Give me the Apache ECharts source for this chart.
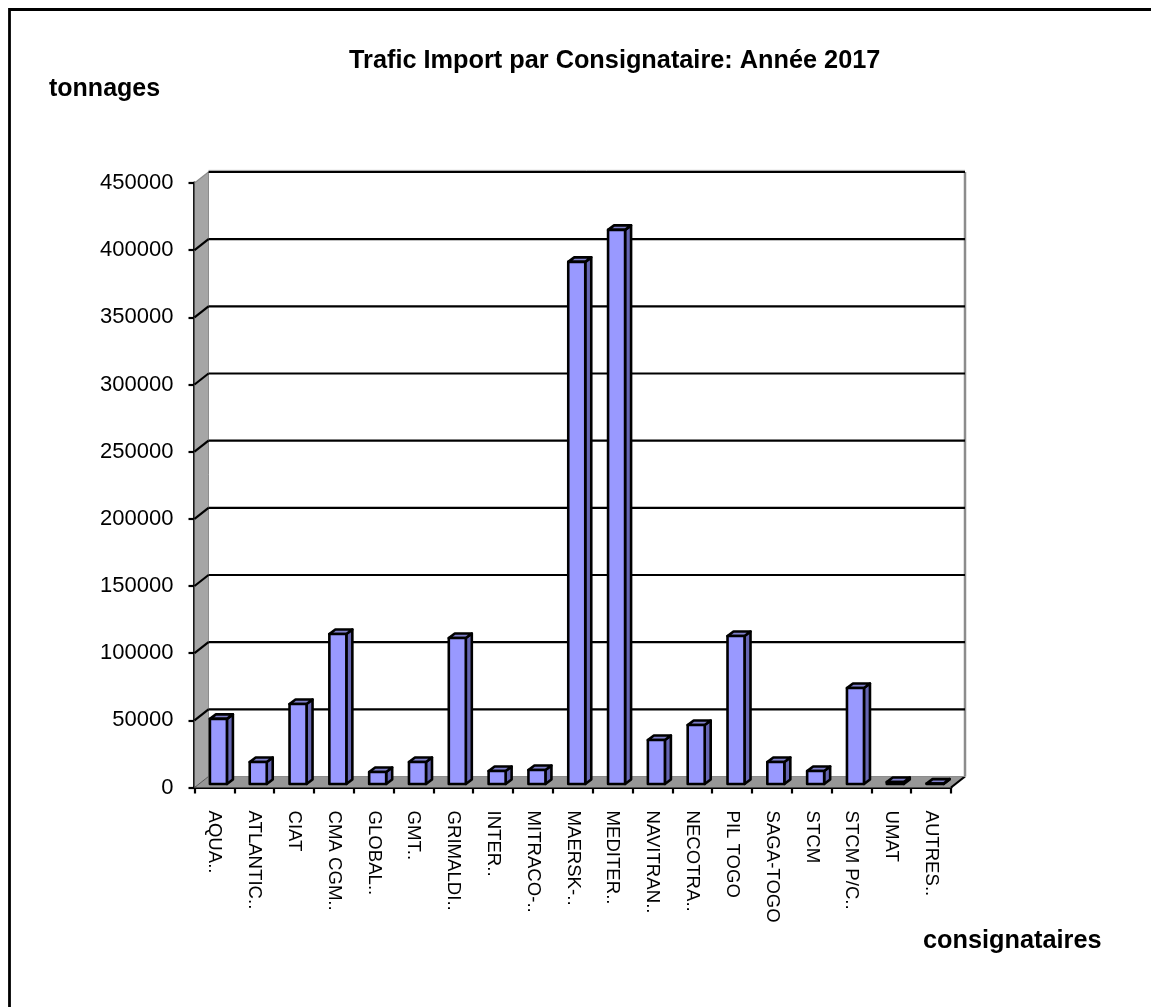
<!DOCTYPE html>
<html><head><meta charset="utf-8">
<style>html,body{margin:0;padding:0;background:#fff}#c{width:1151px;height:1007px}</style>
<script src="https://cdn.jsdelivr.net/npm/echarts@6/dist/echarts.min.js"></script>
</head><body><div id="c"></div>
<script>
const categories = ['AQUA..','ATLANTIC..','CIAT','CMA CGM..','GLOBAL..','GMT..','GRIMALDI..','INTER..','MITRACO-..','MAERSK-..','MEDITER..','NAVITRAN..','NECOTRA..','PIL TOGO','SAGA-TOGO','STCM','STCM P/C..','UMAT','AUTRES..'];
const tonnages = [48500,16400,59500,111700,8900,16400,108700,9700,10400,388700,412500,32800,43900,110200,16400,9700,71500,1500,300];
const yTicks = [0,50000,100000,150000,200000,250000,300000,350000,400000,450000];
const titleText = 'Trafic Import par Consignataire: Année 2017';
const yName = 'tonnages';
const xName = 'consignataires';

const FONT = '"Liberation Sans", Arial, sans-serif';
const DX = 14, DY = -11;       // depth of the 3D box
const BX = 4, BY = -3.5;       // bar offset inside the depth
const SX = 6, SY = -4.5;       // bar own depth
const BW = 17;

const chart = echarts.init(document.getElementById('c'), null, {renderer:'canvas'});

function wallRender(params, api){
  const v = api.value(0);
  const a = api.coord([0, v]);
  const left = a[0] - api.size([1,0])[0]/2;
  const right = left + api.size([1,0])[0]*categories.length;
  const y = a[1];
  const children = [];
  if (params.dataIndex === 0) {
    const top = api.coord([0, yTicks[yTicks.length-1]])[1];
    children.push({type:'polygon',shape:{points:[[left,y],[left+DX,y+DY],[left+DX,top+DY],[left,top]]},style:{fill:'#a6a6a6'}});
    children.push({type:'polygon',shape:{points:[[left,y],[left+DX,y+DY],[right+DX,y+DY],[right,y]]},style:{fill:'#969696'}});
    children.push({type:'line',shape:{x1:right+DX,y1:y+DY,x2:right+DX,y2:top+DY},style:{stroke:'#8c8c8c',lineWidth:2.5}});
    children.push({type:'line',shape:{x1:left+DX,y1:y+DY,x2:left+DX,y2:top+DY},style:{stroke:'#8c8c8c',lineWidth:1}});
    children.push({type:'line',shape:{x1:left,y1:y,x2:left+DX,y2:y+DY},style:{stroke:'#555',lineWidth:1}});
    children.push({type:'line',shape:{x1:right,y1:y,x2:right+DX,y2:y+DY},style:{stroke:'#000',lineWidth:2.2}});
    children.push({type:'line',shape:{x1:left+DX,y1:y+DY,x2:right+DX,y2:y+DY},style:{stroke:'#8c8c8c',lineWidth:1}});
  } else {
    const last = params.dataIndex === yTicks.length-1;
    children.push({type:'line',shape:{x1:left,y1:y,x2:left+DX,y2:y+DY},style:{stroke:last?'#8c8c8c':'#000',lineWidth:last?1.2:2.2}});
    children.push({type:'line',shape:{x1:left+DX,y1:y+DY,x2:right+DX,y2:y+DY},style:{stroke:'#000',lineWidth:2.2}});
    if (last) children.push({type:'line',shape:{x1:left+DX,y1:y+DY-1.6,x2:right+DX,y2:y+DY-1.6},style:{stroke:'#a0a0a0',lineWidth:1}});
  }
  return {type:'group',children};
}

function barRender(params, api){
  const i = api.value(0), v = api.value(1);
  const t = api.coord([i, v]), b = api.coord([i, 0]);
  const x0 = t[0] + BX - BW/2, x1 = x0 + BW;
  const yt = t[1] + BY, yb = b[1] + BY;
  const common = {stroke:'#000', lineWidth:2.6, lineJoin:'round'};
  return {type:'group',children:[
    {type:'polygon',shape:{points:[[x1,yb],[x1+SX,yb+SY],[x1+SX,yt+SY],[x1,yt]]},style:{fill:'#6666b3',...common}},
    {type:'polygon',shape:{points:[[x0,yt],[x0+SX,yt+SY],[x1+SX,yt+SY],[x1,yt]]},style:{fill:'#8080cc',...common}},
    {type:'rect',shape:{x:x0,y:yt,width:BW,height:yb-yt},style:{fill:'#9999ff',...common}}
  ]};
}

chart.setOption({
  animation:false,
  backgroundColor:'#fff',
  title:[
    {text:titleText,left:349,top:49,textStyle:{fontFamily:FONT,fontWeight:'bold',fontSize:25.3,color:'#000'},padding:0},
    {text:yName,left:49,top:77,textStyle:{fontFamily:FONT,fontWeight:'bold',fontSize:25,color:'#000'},padding:0},
    {text:xName,left:923,top:929,textStyle:{fontFamily:FONT,fontWeight:'bold',fontSize:25.3,color:'#000'},padding:0}
  ],
  graphic:[
    {type:'polyline',silent:true,shape:{points:[[9.5,1007],[9.5,9.5],[1151,9.5]]},style:{fill:'none',stroke:'#000',lineWidth:2.8}}
  ],
  grid:{left:194.5,top:183,width:756.5,height:604.5,containLabel:false},
  xAxis:{type:'category',data:categories,
    axisLine:{show:true,lineStyle:{color:'#000',width:2.8}},
    axisTick:{show:true,length:6,lineStyle:{color:'#000',width:2.2}},
    axisLabel:{interval:0,rotate:-90,margin:23,fontFamily:FONT,fontSize:18.6,color:'#000'},
    splitLine:{show:false}},
  yAxis:{type:'value',min:0,max:450000,interval:50000,
    axisLine:{show:true,lineStyle:{color:'#000',width:2.8}},
    axisTick:{show:true,length:6,lineStyle:{color:'#000',width:2.2}},
    axisLabel:{margin:21,fontFamily:FONT,fontSize:22,color:'#000',formatter:v=>String(v)},
    splitLine:{show:false}},
  series:[
    {type:'custom',name:'walls',coordinateSystem:'cartesian2d',clip:false,silent:true,z:1,
     data:yTicks.map(v=>[v]),encode:{y:0},renderItem:wallRender},
    {type:'custom',name:'tonnages',coordinateSystem:'cartesian2d',clip:false,z:3,
     data:tonnages.map((v,i)=>[i,v]),encode:{x:0,y:1},renderItem:barRender}
  ]
});
</script></body></html>
